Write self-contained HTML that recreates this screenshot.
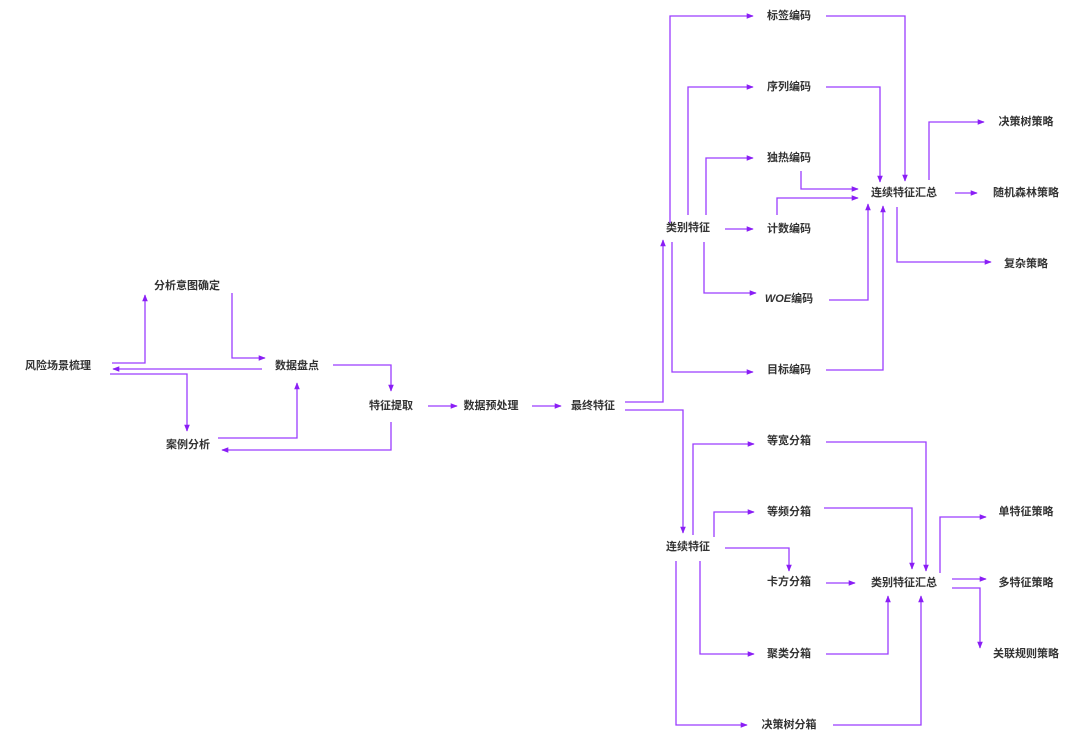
<!DOCTYPE html>
<html><head><meta charset="utf-8"><style>
html,body{margin:0;padding:0;background:#fff;}
svg{display:block;}
text{font-family:"Liberation Sans","Noto Sans CJK SC",sans-serif;font-size:11px;font-weight:bold;fill:#333;text-anchor:middle;dominant-baseline:central;}
path{fill:none;stroke:#9a3cff;stroke-width:1.3;}
</style></head><body>
<svg width="1080" height="742" viewBox="0 0 1080 742">
<defs><marker id="a" viewBox="0 0 10 10" refX="9" refY="5" markerWidth="7" markerHeight="7" orient="auto" markerUnits="userSpaceOnUse"><path d="M0,1 L10,5 L0,9 z" style="fill:#8a1ef5;stroke:none"/></marker></defs>
<g>
<text x="58" y="366">风险场景梳理</text>
<text x="187" y="286">分析意图确定</text>
<text x="297" y="366">数据盘点</text>
<text x="188" y="445">案例分析</text>
<text x="391" y="406">特征提取</text>
<text x="491" y="406">数据预处理</text>
<text x="593" y="406">最终特征</text>
<text x="688" y="228">类别特征</text>
<text x="789" y="16">标签编码</text>
<text x="789" y="87">序列编码</text>
<text x="789" y="158">独热编码</text>
<text x="789" y="229">计数编码</text>
<text x="789" y="299"><tspan font-style="italic">WOE</tspan>编码</text>
<text x="789" y="370">目标编码</text>
<text x="904" y="193">连续特征汇总</text>
<text x="1026" y="122">决策树策略</text>
<text x="1026" y="193">随机森林策略</text>
<text x="1026" y="264">复杂策略</text>
<text x="688" y="547">连续特征</text>
<text x="789" y="441">等宽分箱</text>
<text x="789" y="512">等频分箱</text>
<text x="789" y="582">卡方分箱</text>
<text x="904" y="583">类别特征汇总</text>
<text x="789" y="654">聚类分箱</text>
<text x="789" y="725">决策树分箱</text>
<text x="1026" y="512">单特征策略</text>
<text x="1026" y="583">多特征策略</text>
<text x="1026" y="654">关联规则策略</text>
</g>
<g marker-end="url(#a)">
<path d="M112,363 H145 V295"/>
<path d="M232,293 V358 H265"/>
<path d="M262,369 H113"/>
<path d="M110,374 H187 V431"/>
<path d="M218,438 H297 V383"/>
<path d="M333,365 H391 V391"/>
<path d="M391,422 V450 H222"/>
<path d="M428,406 H457"/>
<path d="M532,406 H561"/>
<path d="M625,402 H663 V240"/>
<path d="M625,410 H683 V533"/>
<path d="M670,223 V16 H753"/>
<path d="M688,215 V87 H753"/>
<path d="M706,215 V158 H753"/>
<path d="M725,229 H753"/>
<path d="M704,242 V293 H756"/>
<path d="M672,242 V372 H753"/>
<path d="M826,16 H905 V181"/>
<path d="M826,87 H880 V182"/>
<path d="M801,171 V189 H858"/>
<path d="M777,215 V198 H858"/>
<path d="M829,300 H868 V204"/>
<path d="M826,370 H883 V206"/>
<path d="M929,180 V122 H984"/>
<path d="M955,193 H977"/>
<path d="M897,207 V262 H991"/>
<path d="M693,535 V444 H754"/>
<path d="M714,537 V512 H754"/>
<path d="M725,548 H789 V571"/>
<path d="M826,583 H855"/>
<path d="M700,561 V654 H754"/>
<path d="M676,561 V725 H747"/>
<path d="M826,442 H926 V571"/>
<path d="M824,508 H912 V569"/>
<path d="M826,654 H888 V596"/>
<path d="M833,725 H921 V596"/>
<path d="M940,573 V517 H986"/>
<path d="M952,579 H986"/>
<path d="M952,588 H980 V648"/>
</g>
</svg>
</body></html>
